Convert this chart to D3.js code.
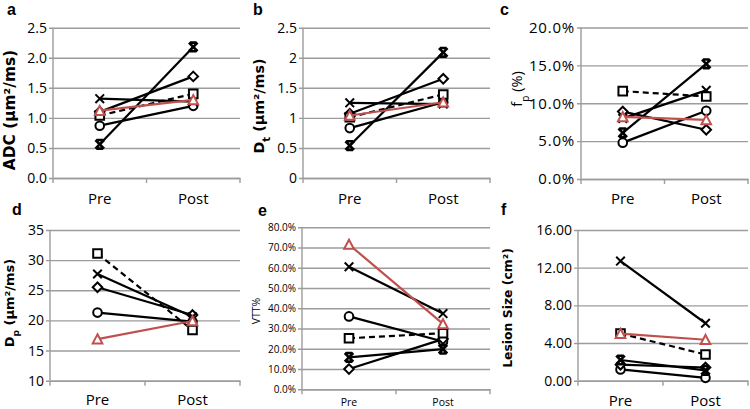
<!DOCTYPE html>
<html>
<head>
<meta charset="utf-8">
<script src="https://cdn.jsdelivr.net/npm/d3@7"></script>
<style>
  html, body { margin: 0; padding: 0; background: #fff; }
  svg { display: block; }
  text { font-family: "Open Sans", "DejaVu Sans", sans-serif; fill: #000; }
</style>
</head>
<body>
<svg id="chart" width="750" height="409"></svg>
<script>
// ---------------- DATA ----------------
const categories = ["Pre", "Post"];
const seriesNames = ["diamond", "square", "triangle", "x", "star", "circle"];

// values: one [Pre, Post] pair per series, in seriesNames order
const adcValues   = [[1.10, 1.69], [1.04, 1.40], [1.12, 1.30], [1.32, 1.27], [0.56, 2.18], [0.87, 1.20]];
const dtValues    = [[1.07, 1.65], [1.01, 1.39], [1.04, 1.26], [1.25, 1.23], [0.54, 2.09], [0.83, 1.26]];
const fpValues    = [[0.089, 0.065], [0.116, 0.109], [0.082, 0.078], [0.080, 0.117], [0.061, 0.152], [0.048, 0.090]];
const dpValues    = [[25.5, 20.9], [31.1, 18.4], [16.9, 19.9], [27.7, 20.6], [null, null], [21.3, 19.8]];
const vttValues   = [[0.100, 0.248], [0.252, 0.277], [0.715, 0.323], [0.605, 0.374], [0.158, 0.198], [0.360, 0.236]];
const lesionValues= [[1.7, 1.40], [5.0, 2.78], [5.0, 4.35], [12.7, 6.1], [2.2, 1.10], [1.2, 0.30]];

// tick labels
const adcTicks    = [0, 0.5, 1.0, 1.5, 2.0, 2.5];
const dtTicks     = [0, 0.5, 1, 1.5, 2, 2.5];
const fpTicks     = [0, 0.05, 0.10, 0.15, 0.20];
const dpTicks     = [10, 15, 20, 25, 30, 35];
const vttTicks    = [0, 0.1, 0.2, 0.3, 0.4, 0.5, 0.6, 0.7, 0.8];
const lesionTicks = [0, 4, 8, 12, 16];

const panelLetters = ["a", "b", "c", "d", "e", "f"];

// ---------------- STYLE / LAYOUT ----------------
const RED = "#c0504d";
const GRID = "#9c9c9c";
const TITLE_FONT = "'DejaVu Sans', sans-serif";

const seriesStyle = {
  diamond:  { color: "#000", dash: null },
  square:   { color: "#000", dash: "6,4" },
  triangle: { color: RED,    dash: null },
  x:        { color: "#000", dash: null },
  star:     { color: "#000", dash: null },
  circle:   { color: "#000", dash: null }
};
const drawOrder = ["circle", "diamond", "x", "star", "square", "triangle"];

const svg = d3.select("#chart");

const panels = [
  { values: adcValues, ticks: adcTicks, domain: [0, 2.5], fmt: d3.format(".1f"),
    left: 53, right: 240, top: 27.7, bottom: 178, tickFont: 14, tickSpacing: 0, catFont: 15, catY: 204,
    letterX: 7, letterY: 14.5, titleX: 14.5, titleY: 110, titleSize: 15.4, title: "adc" },
  { values: dtValues, ticks: dtTicks, domain: [0, 2.5], fmt: d => String(d),
    left: 303, right: 490, top: 27.7, bottom: 178, tickFont: 14, tickSpacing: 0, catFont: 15, catY: 204,
    letterX: 253, letterY: 14.5, titleX: 264, titleY: 106, titleSize: 14.3, title: "dt" },
  { values: fpValues, ticks: fpTicks, domain: [0, 0.20], fmt: d3.format(".1%"),
    left: 581, right: 748, top: 27.5, bottom: 179, tickFont: 15, tickSpacing: 0.8, catFont: 15, catY: 204,
    letterX: 500, letterY: 14.5, titleX: 522, titleY: 89, titleSize: 14.5, title: "fp" },
  { values: dpValues, ticks: dpTicks, domain: [10, 35], fmt: d => String(d),
    left: 50, right: 240, top: 230, bottom: 380.7, tickFont: 14, tickSpacing: 0, catFont: 15, catY: 405,
    letterX: 12, letterY: 215, titleX: 13.5, titleY: 303, titleSize: 13, title: "dp" },
  { values: vttValues, ticks: vttTicks, domain: [0, 0.8], fmt: d3.format(".1%"),
    left: 302, right: 490, top: 227.3, bottom: 389.3, tickFont: 10, tickSpacing: 0, catFont: 10.5, catY: 406,
    letterX: 258, letterY: 216, titleX: 259.5, titleY: 311, titleSize: 10.5, title: "vtt" },
  { values: lesionValues, ticks: lesionTicks, domain: [0, 16], fmt: d3.format(".2f"),
    left: 578, right: 748, top: 230, bottom: 380.7, tickFont: 14, tickSpacing: 0, catFont: 15, catY: 406,
    letterX: 501, letterY: 215, titleX: 512, titleY: 308, titleSize: 12.4, title: "lesion" }
];

function markerPath(shape) {
  const r = 4.3;
  switch (shape) {
    case "diamond":  return `M0,${-r-0.5}L${r+0.5},0L0,${r+0.5}L${-r-0.5},0Z`;
    case "square":   return `M${-r},${-r}H${r}V${r}H${-r}Z`;
    case "triangle": return `M0,${-r-0.5}L${r+0.5},${r}L${-r-0.5},${r}Z`;
    case "x":        return `M${-r},${-r}L${r},${r}M${-r},${r}L${r},${-r}`;
    case "star":     return `M${-r},${-r}L${r},${r}M${-r},${r}L${r},${-r}M${-r+1},${-r}H${r-1}M${-r+1},${r}H${r-1}`;
    case "circle":   return d3.arc()({innerRadius: 0, outerRadius: r, startAngle: 0, endAngle: 2 * Math.PI});
  }
}

function addTitle(g, p) {
  const t = g.append("text")
    .attr("transform", `translate(${p.titleX},${p.titleY}) rotate(-90)`)
    .attr("text-anchor", "middle")
    .style("font-family", TITLE_FONT)
    .style("font-weight", "bold")
    .style("font-size", p.titleSize + "px");
  const sub = (txt) => t.append("tspan").attr("baseline-shift", "sub").style("font-size", "0.7em").text(txt);
  const rest = (txt) => t.append("tspan").attr("baseline-shift", "0").text(txt);
  if (p.title === "adc") {
    rest("ADC (µm²/ms)");
  } else if (p.title === "dt") {
    rest("D"); sub("t"); rest(" (µm²/ms)");
  } else if (p.title === "fp") {
    t.style("font-weight", "normal").style("font-family", "'Open Sans', sans-serif");
    rest("f"); sub("p"); rest(" (%)");
  } else if (p.title === "dp") {
    rest("D"); sub("p"); rest(" (µm²/ms)");
  } else if (p.title === "vtt") {
    t.style("font-weight", "normal").style("font-family", "'Open Sans', sans-serif");
    rest("VTT%");
  } else if (p.title === "lesion") {
    rest("Lesion Size (cm²)");
  }
}

panels.forEach((p, k) => {
  const g = svg.append("g");
  const y = d3.scaleLinear().domain(p.domain).range([p.bottom, p.top]);
  const x = d3.scaleBand().domain(categories).range([p.left, p.right]).paddingInner(0).paddingOuter(0);
  const w = p.right - p.left;

  // gridlines + y tick labels
  const yAxis = d3.axisLeft(y).tickValues(p.ticks).tickFormat(p.fmt)
    .tickSizeInner(-(w + 4)).tickSizeOuter(0).tickPadding(2);
  const ya = g.append("g").attr("transform", `translate(${p.left - 4},0)`).call(yAxis);
  ya.select(".domain").remove();
  ya.selectAll(".tick line").attr("stroke", GRID).attr("stroke-width", 1.4);
  ya.selectAll(".tick text").style("font-size", p.tickFont + "px")
    .style("letter-spacing", p.tickSpacing + "px")
    .style("font-family", "'Open Sans', sans-serif").attr("fill", "#000");

  // vertical axis line
  g.append("line").attr("x1", p.left).attr("x2", p.left)
    .attr("y1", y(p.domain[1])).attr("y2", y(p.domain[0]))
    .attr("stroke", GRID).attr("stroke-width", 1.4);

  // x axis
  const xAxis = d3.axisBottom(x).tickSize(0).tickPadding(0);
  const xa = g.append("g").attr("transform", `translate(0,${p.bottom})`).call(xAxis);
  xa.select(".domain").attr("stroke", GRID).attr("stroke-width", 1.4);
  xa.selectAll(".tick text").attr("y", p.catY - p.bottom).attr("dy", null)
    .style("font-size", p.catFont + "px").style("font-family", "'Open Sans', sans-serif").attr("fill", "#000");
  const bounds = [x(categories[0]), ...categories.map(c => x(c) + x.bandwidth())];
  g.selectAll(".xt").data(bounds).enter().append("line")
    .attr("x1", d => d).attr("x2", d => d)
    .attr("y1", p.bottom).attr("y2", p.bottom + 5)
    .attr("stroke", GRID).attr("stroke-width", 1.4);

  // series
  const cx = c => x(c) + x.bandwidth() / 2;
  const line = d3.line().defined(d => d.v != null).x(d => cx(d.c)).y(d => y(d.v));
  drawOrder.forEach(name => {
    const i = seriesNames.indexOf(name);
    const pts = categories.map((c, j) => ({ c, v: p.values[i][j] }));
    if (pts.every(d => d.v == null)) return;
    const st = seriesStyle[name];
    g.append("path").datum(pts).attr("d", line)
      .attr("fill", "none").attr("stroke", st.color).attr("stroke-width", 2.2)
      .attr("stroke-dasharray", st.dash);
    g.selectAll(null).data(pts.filter(d => d.v != null)).enter().append("path")
      .attr("transform", d => `translate(${cx(d.c)},${y(d.v)})`)
      .attr("d", markerPath(name))
      .attr("fill", (name === "x" || name === "star") ? "none" : "#fff")
      .attr("stroke", st.color)
      .attr("stroke-width", name === "star" ? 2.6 : 2);
  });

  // panel letter
  g.append("text").attr("x", p.letterX).attr("y", p.letterY)
    .style("font-family", "'Liberation Sans', sans-serif")
    .style("font-weight", "bold").style("font-size", "16px").text(panelLetters[k]);

  addTitle(g, p);
});
</script>
</body>
</html>
